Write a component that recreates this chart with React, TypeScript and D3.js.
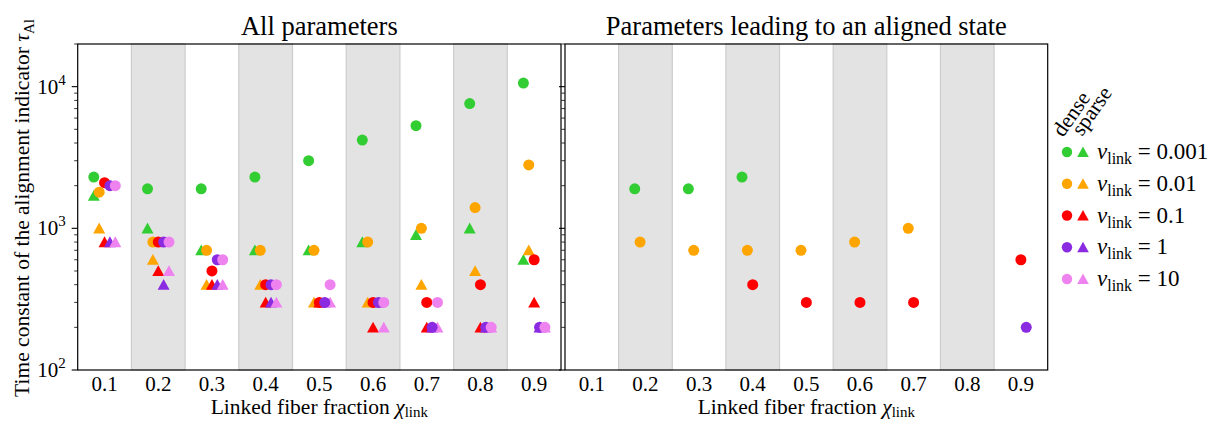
import * as d3 from 'd3';

// chi_link categories and nu_link series
const chiValues = [0.1, 0.2, 0.3, 0.4, 0.5, 0.6, 0.7, 0.8, 0.9];
const nuLabels = ['0.001', '0.01', '0.1', '1', '10'];
const nuColors = ['#32cd32', '#ffa500', '#ff0000', '#8a2be2', '#ee82ee'];

// dense networks (circles), one row per nu_link
const denseGreen = [2300, 1900, 1900, 2300, 3000, 4200, 5300, 7600, 10600];
const denseOrange = [1800, 800, 700, 700, 700, 800, 1000, 1400, 2800];
const denseRed = [2100, 800, 500, 400, 300, 300, 300, 400, 600];
const densePurple = [2000, 800, 600, 400, 300, 300, 200, 200, 200];
const densePink = [2000, 800, 600, 400, 400, 300, 300, 200, 200];

// sparse networks (triangles)
const sparseGreen = [1700, 1000, 700, 700, 700, 800, 900, 1000, 600];
const sparseOrange = [1000, 600, 400, 400, 300, 300, 400, 500, 700];
const sparseRed = [800, 500, 400, 300, 300, 200, 200, 200, 300];
const sparsePurple = [800, 400, 400, 300, 300, 300, 200, 200, 200];
const sparsePink = [800, 500, 400, 300, 300, 200, 200, 200, 200];

// chi values where the dense run ends in an aligned state
const alignedGreen = [0.2, 0.3, 0.4];
const alignedOrange = [0.2, 0.3, 0.4, 0.5, 0.6, 0.7];
const alignedRed = [0.4, 0.5, 0.6, 0.7, 0.9];
const alignedPurple = [0.9];
const alignedPink: number[] = [];

const dense = [denseGreen, denseOrange, denseRed, densePurple, densePink];
const sparse = [sparseGreen, sparseOrange, sparseRed, sparsePurple, sparsePink];
const aligned = [alignedGreen, alignedOrange, alignedRed, alignedPurple, alignedPink];

const xTicks = [0.1, 0.2, 0.3, 0.4, 0.5, 0.6, 0.7, 0.8, 0.9];
const bands = [0.2, 0.4, 0.6, 0.8];

const W = 1212;
const H = 421;
const TOP = 44;
const BOTTOM = 370;
const FONT = '"Liberation Serif", "DejaVu Serif", serif';

const y = d3.scaleLog().domain([100, 20000]).range([BOTTOM, TOP]);

function trianglePath(cx: number, cy: number, s = 6) {
  const p = d3.path();
  p.moveTo(cx, cy - s * 0.95);
  p.lineTo(cx - s, cy + s * 0.85);
  p.lineTo(cx + s, cy + s * 0.85);
  p.closePath();
  return p.toString();
}

interface PanelProps {
  left: number;
  right: number;
  title: string;
  showAll: boolean;
  showYLabels: boolean;
}

const Panel = ({ left, right, title, showAll, showYLabels }: PanelProps) => {
  const x = d3.scaleLinear().domain([0.05, 0.95]).range([left, right]);
  const yTicks = y.ticks();
  const offset = (i: number) => (i - 2) * 0.01;
  const cx = (left + right) / 2;

  return (
    <g>
      {bands.map(b => (
        <rect key={b} x={x(b - 0.05)} y={TOP} width={x(b + 0.05) - x(b - 0.05)} height={BOTTOM - TOP}
          fill="#e3e3e3" stroke="#cdcdcd" strokeWidth={1.2} />
      ))}

      {showAll && sparse.map((row, i) => row.map((v, j) => (
        <path key={`s${i}-${j}`} d={trianglePath(x(chiValues[j] + offset(i)), y(v))} fill={nuColors[i]} />
      )))}
      {showAll && dense.map((row, i) => row.map((v, j) => (
        <circle key={`d${i}-${j}`} cx={x(chiValues[j] + offset(i))} cy={y(v)} r={5.5} fill={nuColors[i]} />
      )))}
      {!showAll && aligned.map((list, i) => list.map(c => {
        const j = chiValues.indexOf(c);
        return <circle key={`a${i}-${j}`} cx={x(c + offset(i))} cy={y(dense[i][j])} r={5.5} fill={nuColors[i]} />;
      }))}

      <rect x={left} y={TOP} width={right - left} height={BOTTOM - TOP} fill="none" stroke="#000" strokeWidth={1.2} />

      {yTicks.map(t => {
        const major = Math.abs(Math.log10(t) - Math.round(Math.log10(t))) < 1e-9;
        return (
          <line key={t} x1={left - (major ? 6 : 3.5)} x2={left} y1={y(t)} y2={y(t)} stroke="#000" strokeWidth={major ? 1.1 : 0.8} />
        );
      })}
      {showYLabels && [100, 1000, 10000].map(t => (
        <text key={t} x={left - 12} y={y(t) + 7} textAnchor="end" fontFamily={FONT} fontSize={21}>
          10<tspan dy={-9} fontSize={15}>{Math.round(Math.log10(t))}</tspan>
        </text>
      ))}

      {xTicks.map(t => (
        <text key={t} x={x(t)} y={BOTTOM + 21} textAnchor="middle" fontFamily={FONT} fontSize={21}>{t.toFixed(1)}</text>
      ))}

      <text x={cx} y={35} textAnchor="middle" fontFamily={FONT} fontSize={26.5}>{title}</text>
      <text x={cx} y={414} textAnchor="middle" fontFamily={FONT} fontSize={21.5}>
        Linked fiber fraction <tspan fontStyle="italic">χ</tspan><tspan dy={3} fontSize={15}>link</tspan>
      </text>
    </g>
  );
};

const Legend = () => {
  const rowY = d3.scaleLinear().domain([0, 4]).range([152, 279]);
  return (
    <g fontFamily={FONT}>
      <text transform="translate(1063,138) rotate(-55)" fontSize={21.5}>dense</text>
      <text transform="translate(1082,137) rotate(-55)" fontSize={21.5}>sparse</text>
      {nuLabels.map((lab, i) => (
        <g key={lab}>
          <circle cx={1067} cy={rowY(i)} r={5.2} fill={nuColors[i]} />
          <path d={trianglePath(1083, rowY(i), 5.8)} fill={nuColors[i]} />
          <text x={1097} y={rowY(i) + 7} fontSize={23}>
            <tspan fontStyle="italic">ν</tspan><tspan dy={5} fontSize={16}>link</tspan><tspan dy={-5}> = {lab}</tspan>
          </text>
        </g>
      ))}
    </g>
  );
};

export default function App() {
  return (
    <svg width={W} height={H} viewBox={`0 0 ${W} ${H}`}
      style={{ position: 'absolute', left: 0, top: 0, background: '#fff' }}>
      <rect width={W} height={H} fill="#fff" />
      <Panel left={77.7} right={561} title="All parameters" showAll showYLabels />
      <Panel left={565} right={1047.7} title="Parameters leading to an aligned state" showAll={false} showYLabels={false} />
      <text transform={`translate(29,${(TOP + BOTTOM) / 2 + 1}) rotate(-90)`} textAnchor="middle" fontFamily={FONT} fontSize={21.5}>
        Time constant of the alignment indicator <tspan fontStyle="italic">τ</tspan><tspan dy={5} fontSize={15}>Al</tspan>
      </text>
      <Legend />
    </svg>
  );
}
